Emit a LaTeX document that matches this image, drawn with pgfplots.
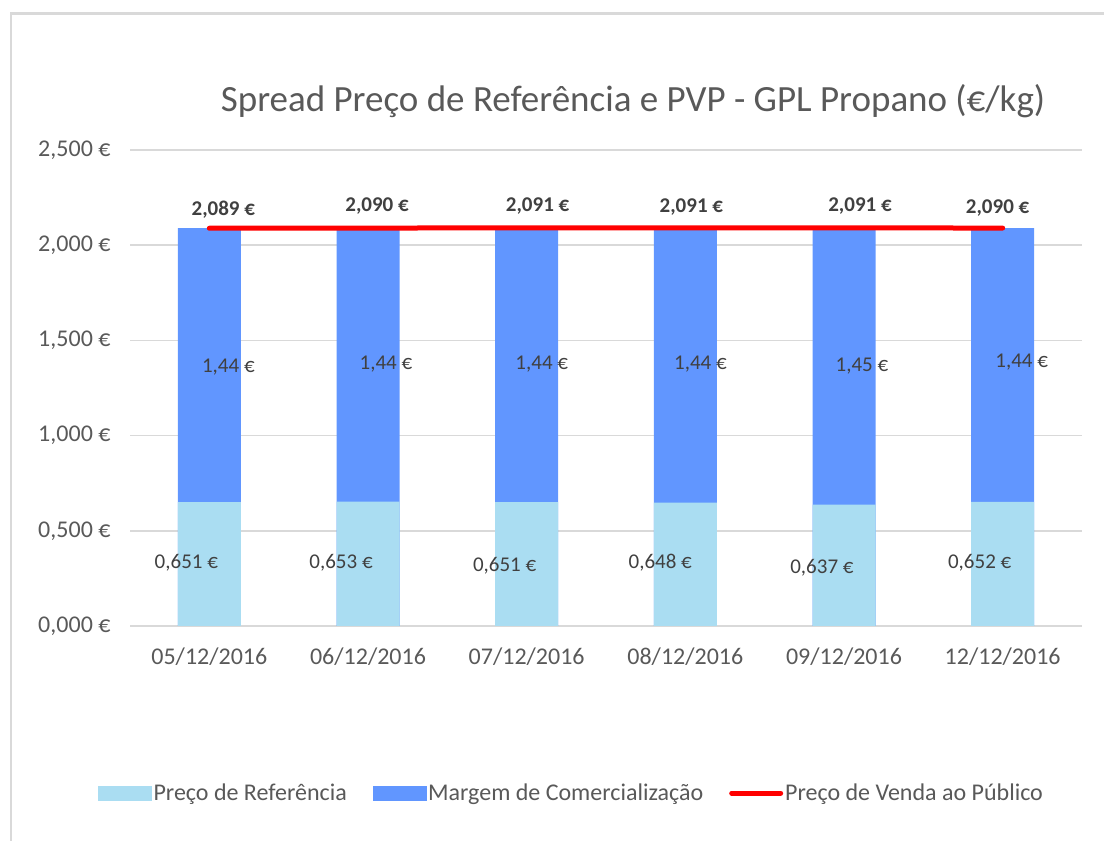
\documentclass[border=0pt]{standalone}
\usepackage{pgfplots}
\pgfplotsset{compat=1.18}
\usepackage{fontspec}
\setmainfont{Carlito}

\definecolor{refc}{HTML}{AADDF2}
\definecolor{marg}{HTML}{6196FF}
\definecolor{txt}{HTML}{595959}
\definecolor{lbl}{HTML}{404040}
\definecolor{grd}{HTML}{D9D9D9}

\begin{document}
\begin{tikzpicture}
\useasboundingbox (0bp,0bp) rectangle (1104bp,841bp);
\draw[grd, line width=2.5bp] (11bp,0bp) -- (11bp,827.5bp) -- (1104bp,827.5bp);
\node[anchor=base, text=txt, font=\fontsize{37bp}{42bp}\selectfont] at (633bp,729bp)
  {Spread Preço de Referência e PVP - GPL Propano (€/kg)};
\begin{axis}[
  at={(130bp,215bp)}, anchor=south west,
  scale only axis, width=952bp, height=476bp,
  xmin=-0.5, xmax=5.5, ymin=0, ymax=2.5,
  axis line style={draw=none},
  tick style={draw=none},
  ymajorgrids, grid style={grd, line width=1.5bp},
  xtick={0,1,2,3,4,5},
  xticklabels={05/12/2016,06/12/2016,07/12/2016,08/12/2016,09/12/2016,12/12/2016},
  ytick={0,0.5,1,1.5,2,2.5},
  yticklabel={\pgfmathprintnumber{\tick}~€},
  /pgf/number format/.cd, fixed, fixed zerofill, precision=3, use comma, assume math mode=true,
  /pgfplots/.cd,
  tick label style={font=\fontsize{24bp}{28bp}\selectfont, text=txt},
  yticklabel style={xshift=-16bp},
  xticklabel style={yshift=-18bp},
  legend style={at={(0.4638,-0.351)}, anchor=center, draw=none, legend columns=3,
    font=\fontsize{24bp}{28bp}\selectfont, text=txt,
    /tikz/every even column/.append style={column sep=24bp}},
  legend cell align=left,
]
\addplot[ybar, bar width=63bp, bar shift=0pt, fill=marg, draw=none, forget plot]
  coordinates {(0,2.089) (1,2.090) (2,2.091) (3,2.091) (4,2.091) (5,2.090)};
\addplot[ybar, bar width=63bp, bar shift=0pt, fill=refc, draw=none, forget plot]
  coordinates {(0,0.651) (1,0.653) (2,0.651) (3,0.648) (4,0.637) (5,0.652)};
\addplot[red, line width=5bp, line cap=round, line join=round, forget plot]
  coordinates {(0,2.089) (1,2.090) (2,2.091) (3,2.091) (4,2.091) (5,2.090)};

% labels
\addplot[draw=none, forget plot, nodes near coords, point meta=explicit symbolic,
  nodes near coords style={anchor=center, font=\fontsize{21bp}{24bp}\selectfont, text=lbl}]
  coordinates {(-0.145,0.331) [0,651 €] (0.830,0.331) [0,653 €] (1.861,0.315) [0,651 €]
               (2.842,0.331) [0,648 €] (3.861,0.304) [0,637 €] (4.855,0.331) [0,652 €]};
\addplot[draw=none, forget plot, nodes near coords, point meta=explicit symbolic,
  nodes near coords style={anchor=center, font=\fontsize{21bp}{24bp}\selectfont, text=lbl}]
  coordinates {(0.120,1.360) [1,44 €] (1.113,1.376) [1,44 €] (2.095,1.376) [1,44 €]
               (3.095,1.376) [1,44 €] (4.113,1.366) [1,45 €] (5.120,1.387) [1,44 €]};
\addplot[draw=none, forget plot, nodes near coords, point meta=explicit symbolic,
  nodes near coords style={anchor=center, font=\bfseries\fontsize{21bp}{24bp}\selectfont, text=lbl}]
  coordinates {(0.088,2.185) [2,089 €] (1.057,2.206) [2,090 €] (2.069,2.206) [2,091 €]
               (3.038,2.201) [2,091 €] (4.101,2.206) [2,091 €] (4.968,2.195) [2,090 €]};

\addlegendimage{legend image code/.code={\fill[refc] (0bp,-7bp) rectangle (53bp,7bp);}}
\addlegendentry{Preço de Referência}
\addlegendimage{legend image code/.code={\fill[marg] (0bp,-7bp) rectangle (53bp,7bp);}}
\addlegendentry{Margem de Comercialização}
\addlegendimage{legend image code/.code={\draw[red, line width=5bp, line cap=round] (2bp,0bp) -- (51bp,0bp);}}
\addlegendentry{Preço de Venda ao Público}
\end{axis}
\end{tikzpicture}
\end{document}
